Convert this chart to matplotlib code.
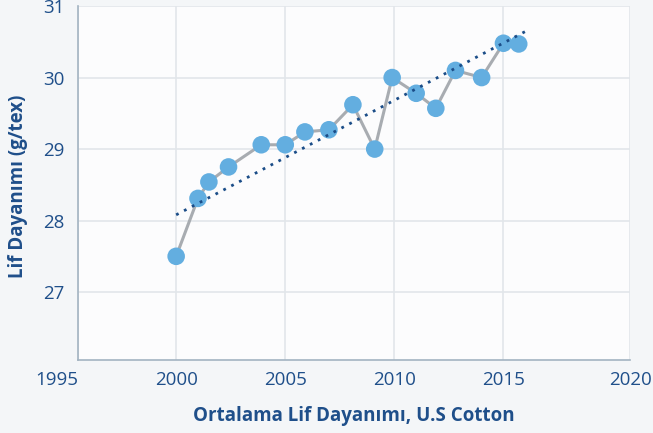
import matplotlib

matplotlib.use("Agg")
import matplotlib.pyplot as plt

# Average fibre strength, U.S. cotton
years = [2000.0, 2001.0, 2001.5, 2002.4, 2003.9, 2005.0, 2005.9, 2007.0,
         2008.1, 2009.1, 2009.9, 2011.0, 2011.9, 2012.8, 2014.0, 2015.0, 2015.7]
strength = [27.5, 28.31, 28.54, 28.75, 29.06, 29.06, 29.24, 29.27,
            29.62, 29.0, 30.0, 29.78, 29.57, 30.1, 30.0, 30.48, 30.47]

# linear trend endpoints (dotted line)
trend_years = [2000.0, 2016.1]
trend_vals = [28.08, 30.66]

x_ticks = [2000, 2005, 2010, 2015]
y_ticks = [27, 28, 29, 30, 31]

TEXT = "#1f4f8a"
plt.rcParams["font.family"] = ["Open Sans", "DejaVu Sans"]

fig = plt.figure(figsize=(6.53, 4.33), dpi=100, facecolor="#f4f6f8")
ax = fig.add_axes([0.1194, 0.1686, 0.8454, 0.8174])
ax.set_facecolor("#fcfcfd")

ax.plot(years, strength, color="#a8acb1", lw=2.2, zorder=2)
ax.scatter(years, strength, s=160, color="#63aee0", zorder=3, edgecolors="none")
ax.plot(trend_years, trend_vals, color="#1b4d88", lw=2, ls=(0, (1, 2.2)), zorder=4)

xmin, xmax = 1995.5, 2020.8
ax.set_xlim(xmin, xmax)
ax.set_ylim(26.05, 31.0)
ax.set_xticks([xmin] + x_ticks + [xmax])
ax.set_xticklabels(["1995"] + [str(t) for t in x_ticks] + ["2020"])
ax.set_yticks(y_ticks)

ax.grid(True, color="#e2e6ea", lw=1.2)
ax.set_axisbelow(True)
for s in ["top", "right"]:
    ax.spines[s].set_visible(False)
for s in ["left", "bottom"]:
    ax.spines[s].set_color("#a3b3c1")
    ax.spines[s].set_linewidth(1.2)

ax.tick_params(length=0, labelsize=13.5, colors=TEXT, pad=8)
ax.tick_params(axis="y", pad=10)
xlabels = ax.get_xticklabels()
xlabels[0].set_horizontalalignment("right")

ax.set_xlabel("Ortalama Lif Dayanımı, U.S Cotton", fontsize=13.5,
              fontweight="bold", color=TEXT, labelpad=12)
ax.set_ylabel("Lif Dayanımı (g/tex)", fontsize=13.5, fontweight="bold",
              color=TEXT)
ax.yaxis.set_label_coords(-0.090, 0.49)

fig.savefig("out.png", dpi=100, facecolor=fig.get_facecolor())
